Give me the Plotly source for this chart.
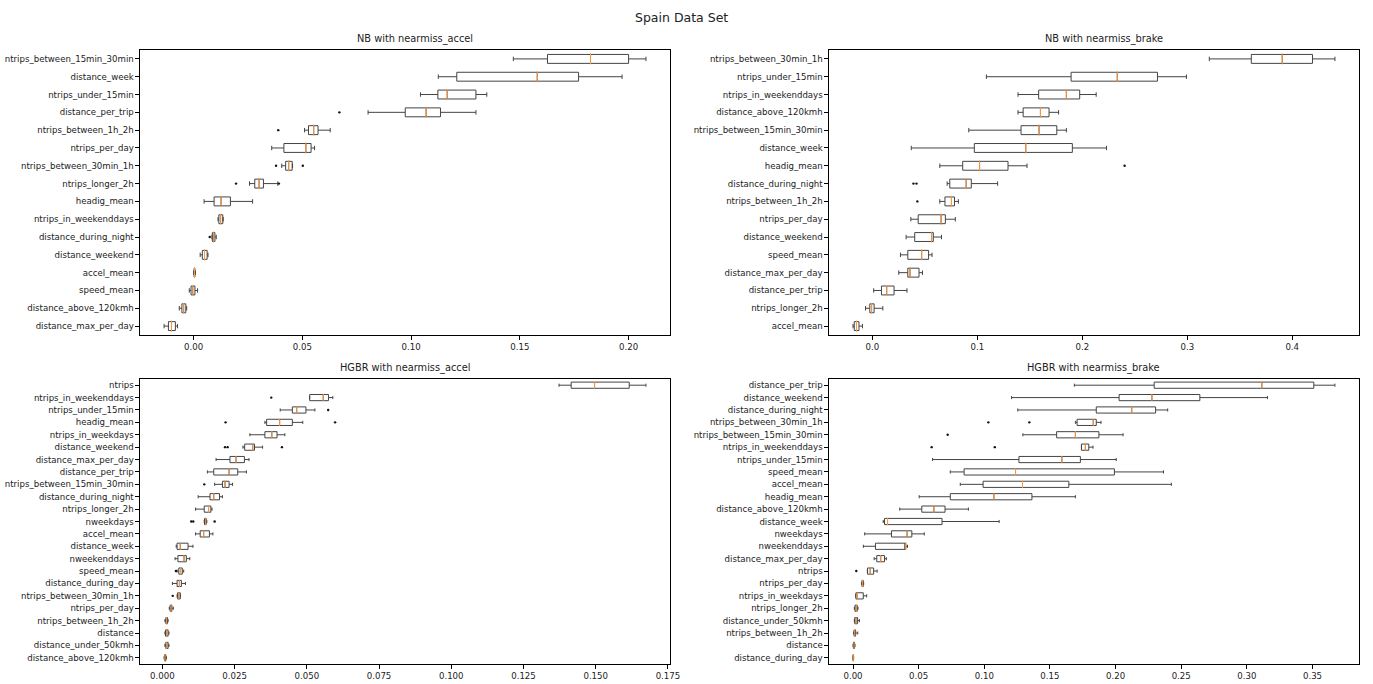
import plotly.graph_objects as go

# ---------------- data ----------------
suptitle = "Spain Data Set"

# NB with nearmiss_accel
nb_accel_features = ["ntrips_between_15min_30min", "distance_week", "ntrips_under_15min", "distance_per_trip",
                     "ntrips_between_1h_2h", "ntrips_per_day", "ntrips_between_30min_1h", "ntrips_longer_2h",
                     "headig_mean", "ntrips_in_weekenddays", "distance_during_night", "distance_weekend",
                     "accel_mean", "speed_mean", "distance_above_120kmh", "distance_max_per_day"]
nb_accel_lo = [0.147, 0.1125, 0.1043, 0.0802, 0.051, 0.0359, 0.0405, 0.0257, 0.0048, 0.0112, 0.0084, 0.0030, 0.0000, -0.0020, -0.0066, -0.0136]
nb_accel_q1 = [0.1627, 0.121, 0.1123, 0.0973, 0.0528, 0.0415, 0.0423, 0.0281, 0.0094, 0.0116, 0.0086, 0.0040, 0.0002, -0.0012, -0.0054, -0.0116]
nb_accel_med = [0.1825, 0.158, 0.1166, 0.1069, 0.0552, 0.0516, 0.0437, 0.0301, 0.0126, 0.0124, 0.0092, 0.0050, 0.0004, -0.0004, -0.0046, -0.0102]
nb_accel_q3 = [0.2, 0.177, 0.1298, 0.1135, 0.0572, 0.054, 0.0453, 0.0321, 0.0169, 0.0134, 0.0098, 0.0062, 0.0006, 0.0006, -0.0036, -0.0084]
nb_accel_hi = [0.208, 0.197, 0.1348, 0.1298, 0.0628, 0.0556, 0.0455, 0.0387, 0.0271, 0.0136, 0.0104, 0.0066, 0.0008, 0.0018, -0.0032, -0.0074]
nb_accel_out_feat = ["distance_per_trip", "ntrips_between_1h_2h", "ntrips_between_30min_1h", "ntrips_between_30min_1h",
                     "ntrips_longer_2h", "ntrips_longer_2h", "distance_during_night"]
nb_accel_out_val = [0.067, 0.0389, 0.0379, 0.0502, 0.0195, 0.0392, 0.0074]

# NB with nearmiss_brake
nb_brake_features = ["ntrips_between_30min_1h", "ntrips_under_15min", "ntrips_in_weekenddays", "distance_above_120kmh",
                     "ntrips_between_15min_30min", "distance_week", "headig_mean", "distance_during_night",
                     "ntrips_between_1h_2h", "ntrips_per_day", "distance_weekend", "speed_mean",
                     "distance_max_per_day", "distance_per_trip", "ntrips_longer_2h", "accel_mean"]
nb_brake_lo = [0.321, 0.1086, 0.1387, 0.1387, 0.0918, 0.037, 0.0642, 0.0712, 0.0642, 0.0366, 0.0321, 0.0267, 0.0251, 0.0012, -0.0066, -0.0185]
nb_brake_q1 = [0.361, 0.1893, 0.1584, 0.1436, 0.1416, 0.0971, 0.086, 0.0737, 0.0691, 0.0436, 0.0403, 0.0337, 0.0337, 0.0086, -0.0025, -0.0173]
nb_brake_med = [0.3905, 0.2333, 0.1848, 0.1601, 0.1588, 0.1461, 0.1021, 0.0893, 0.0753, 0.0654, 0.0564, 0.0469, 0.0358, 0.0136, -0.0008, -0.0152]
nb_brake_q3 = [0.4193, 0.2716, 0.1975, 0.1683, 0.1757, 0.1905, 0.1292, 0.0942, 0.0782, 0.0695, 0.058, 0.0535, 0.0444, 0.0206, 0.0016, -0.0128]
nb_brake_hi = [0.4407, 0.2992, 0.2132, 0.1774, 0.1848, 0.223, 0.1473, 0.1193, 0.0819, 0.079, 0.0658, 0.0568, 0.0477, 0.0329, 0.0099, -0.0095]
nb_brake_out_feat = ["headig_mean", "distance_during_night", "distance_during_night", "ntrips_between_1h_2h"]
nb_brake_out_val = [0.2403, 0.0391, 0.042, 0.0428]

# HGBR with nearmiss_accel
hgbr_accel_features = ["ntrips", "ntrips_in_weekenddays", "ntrips_under_15min", "headig_mean", "ntrips_in_weekdays",
                       "distance_weekend", "distance_max_per_day", "distance_per_trip", "ntrips_between_15min_30min",
                       "distance_during_night", "ntrips_longer_2h", "nweekdays", "accel_mean", "distance_week",
                       "nweekenddays", "speed_mean", "distance_during_day", "ntrips_between_30min_1h",
                       "ntrips_per_day", "ntrips_between_1h_2h", "distance", "distance_under_50kmh",
                       "distance_above_120kmh"]
hgbr_accel_lo = [0.1373, 0.051, 0.0408, 0.0355, 0.0303, 0.0279, 0.0186, 0.0156, 0.0181, 0.0124, 0.0115, 0.0145, 0.0115, 0.0048, 0.0044, 0.0051, 0.0035, 0.0051, 0.0024, 0.0009, 0.0009, 0.0009, 0.0006]
hgbr_accel_q1 = [0.1415, 0.051, 0.045, 0.0361, 0.0355, 0.0285, 0.0234, 0.0178, 0.0208, 0.0165, 0.0145, 0.0146, 0.0131, 0.0051, 0.0054, 0.0057, 0.0051, 0.0053, 0.0027, 0.0012, 0.0011, 0.0012, 0.0008]
hgbr_accel_med = [0.1496, 0.0557, 0.0465, 0.0406, 0.0379, 0.0313, 0.0255, 0.0231, 0.0217, 0.0178, 0.016, 0.015, 0.0143, 0.0062, 0.0075, 0.0063, 0.0059, 0.0057, 0.003, 0.0015, 0.0015, 0.0015, 0.0009]
hgbr_accel_q3 = [0.1616, 0.0575, 0.0497, 0.045, 0.0397, 0.0319, 0.0284, 0.0261, 0.0231, 0.0198, 0.0168, 0.0152, 0.0163, 0.0089, 0.0083, 0.0069, 0.0066, 0.0062, 0.0033, 0.0018, 0.002, 0.002, 0.0012]
hgbr_accel_hi = [0.1674, 0.059, 0.0528, 0.0486, 0.0424, 0.0347, 0.03, 0.0291, 0.0243, 0.0208, 0.0172, 0.0154, 0.0175, 0.0106, 0.0095, 0.0074, 0.008, 0.0063, 0.0038, 0.002, 0.0023, 0.0023, 0.0014]
hgbr_accel_out_feat = ["ntrips_in_weekenddays", "ntrips_under_15min", "headig_mean", "headig_mean",
                       "distance_weekend", "distance_weekend", "distance_weekend", "ntrips_between_15min_30min",
                       "nweekdays", "nweekdays", "nweekdays", "speed_mean", "ntrips_between_30min_1h"]
hgbr_accel_out_val = [0.0377, 0.0574, 0.0219, 0.0598, 0.0217, 0.0226, 0.0414, 0.0145, 0.0100, 0.0107, 0.0181, 0.0047, 0.0036]

# HGBR with nearmiss_brake
hgbr_brake_features = ["distance_per_trip", "distance_weekend", "distance_during_night", "ntrips_between_30min_1h",
                       "ntrips_between_15min_30min", "ntrips_in_weekenddays", "ntrips_under_15min", "speed_mean",
                       "accel_mean", "headig_mean", "distance_above_120kmh", "distance_week", "nweekdays",
                       "nweekenddays", "distance_max_per_day", "ntrips", "ntrips_per_day", "ntrips_in_weekdays",
                       "ntrips_longer_2h", "distance_under_50kmh", "ntrips_between_1h_2h", "distance",
                       "distance_during_day"]
hgbr_brake_lo = [0.1686, 0.1208, 0.1255, 0.1694, 0.1294, 0.1742, 0.0606, 0.0741, 0.0817, 0.0504, 0.0356, 0.023, 0.0089, 0.0079, 0.0161, 0.0109, 0.0066, 0.002, 0.001, 0.001, 0.0005, 0.0, 0.0]
hgbr_brake_q1 = [0.2294, 0.2027, 0.1853, 0.1707, 0.1551, 0.174, 0.1264, 0.0846, 0.0991, 0.0741, 0.0524, 0.024, 0.0293, 0.0171, 0.0181, 0.0111, 0.0068, 0.0022, 0.0015, 0.0013, 0.0008, 0.0003, 0.0001]
hgbr_brake_med = [0.3114, 0.2277, 0.2123, 0.183, 0.1694, 0.177, 0.1591, 0.1238, 0.1291, 0.1073, 0.0616, 0.0263, 0.0412, 0.0402, 0.0211, 0.0131, 0.0073, 0.0033, 0.0025, 0.0023, 0.0013, 0.0008, 0.0002]
hgbr_brake_q3 = [0.351, 0.2642, 0.2305, 0.1853, 0.1873, 0.1796, 0.1732, 0.1991, 0.1644, 0.1363, 0.0701, 0.0678, 0.0448, 0.0402, 0.024, 0.0157, 0.0078, 0.0078, 0.0032, 0.0035, 0.002, 0.0012, 0.0003]
hgbr_brake_hi = [0.3671, 0.3157, 0.2397, 0.1889, 0.2057, 0.1828, 0.2005, 0.2365, 0.2425, 0.1694, 0.0879, 0.1113, 0.0543, 0.0415, 0.0254, 0.0184, 0.0081, 0.0104, 0.0038, 0.0049, 0.0036, 0.0015, 0.0005]
hgbr_brake_out_feat = ["ntrips_between_30min_1h", "ntrips_between_30min_1h", "ntrips_between_15min_30min",
                       "ntrips_in_weekenddays", "ntrips_in_weekenddays", "ntrips"]
hgbr_brake_out_val = [0.1031, 0.1343, 0.0721, 0.0599, 0.108, 0.0025]

panel_titles = ["NB with nearmiss_accel", "NB with nearmiss_brake",
                "HGBR with nearmiss_accel", "HGBR with nearmiss_brake"]
tick_steps = [0.05, 0.1, 0.025, 0.05]
tick_formats = [".2f", ".1f", ".3f", ".2f"]

# ---------------- layout geometry ----------------
W, H = 1373, 684
col_x = [(141, 675), (835, 1369)]
row_y = [(50, 335), (379, 664)]
title_dx = [10, 10, 0, 0]

panels = [
    (nb_accel_features, nb_accel_lo, nb_accel_q1, nb_accel_med, nb_accel_q3, nb_accel_hi, nb_accel_out_feat, nb_accel_out_val),
    (nb_brake_features, nb_brake_lo, nb_brake_q1, nb_brake_med, nb_brake_q3, nb_brake_hi, nb_brake_out_feat, nb_brake_out_val),
    (hgbr_accel_features, hgbr_accel_lo, hgbr_accel_q1, hgbr_accel_med, hgbr_accel_q3, hgbr_accel_hi, hgbr_accel_out_feat, hgbr_accel_out_val),
    (hgbr_brake_features, hgbr_brake_lo, hgbr_brake_q1, hgbr_brake_med, hgbr_brake_q3, hgbr_brake_hi, hgbr_brake_out_feat, hgbr_brake_out_val),
]

FONT = "DejaVu Sans"
TXT = "#222222"
BOXC = "#444444"
MEDC = "#ff9a40"

fig = go.Figure()
layout = dict(
    width=W, height=H, margin=dict(l=0, r=0, t=0, b=0),
    paper_bgcolor="white", plot_bgcolor="white", showlegend=False,
    font=dict(family=FONT, color=TXT),
)
annotations = [dict(text=suptitle, x=0.5, y=1 - 17 / H, xref="paper", yref="paper",
                    showarrow=False, font=dict(size=12.5, family=FONT, color=TXT),
                    xanchor="center", yanchor="middle")]

for i, (feat, lo, q1, med, q3, hi, of, ov) in enumerate(panels):
    r, c = divmod(i, 2)
    x0, x1 = col_x[c]
    y0, y1 = row_y[r]
    n = len(feat)
    xa = "x" if i == 0 else f"x{i+1}"
    ya = "y" if i == 0 else f"y{i+1}"
    xkey = "xaxis" if i == 0 else f"xaxis{i+1}"
    ykey = "yaxis" if i == 0 else f"yaxis{i+1}"

    fig.add_trace(go.Box(
        y=feat, q1=q1, median=med, q3=q3, lowerfence=lo, upperfence=hi,
        orientation="h", width=0.5, whiskerwidth=0.5, boxpoints=False,
        line=dict(color=BOXC, width=1), fillcolor="rgba(255,255,255,0)",
        xaxis=xa, yaxis=ya, hoverinfo="skip",
    ))
    box_px = 0.5 * (y1 - y0) / n
    fig.add_trace(go.Scatter(
        x=med, y=feat, mode="markers", xaxis=xa, yaxis=ya, hoverinfo="skip",
        marker=dict(symbol="line-ns", size=box_px - 1, line=dict(color=MEDC, width=1)),
    ))
    fig.add_trace(go.Scatter(
        x=ov, y=of, mode="markers", xaxis=xa, yaxis=ya, hoverinfo="skip",
        marker=dict(symbol="circle", size=2.4, color="#111111"),
    ))

    vmin = min(lo + ov)
    vmax = max(hi + ov)
    span = vmax - vmin
    xr = [vmin - 0.05 * span, vmax + 0.05 * span]

    axis_common = dict(showline=True, linecolor="black", linewidth=1, mirror=True,
                       ticks="outside", ticklen=3.5, tickwidth=0.8, tickcolor="black",
                       showgrid=False, zeroline=False,
                       tickfont=dict(family=FONT, size=8.6, color=TXT))
    layout[xkey] = dict(axis_common, domain=[x0 / W, x1 / W], anchor=ya, range=xr,
                        tick0=0, dtick=tick_steps[i], tickformat=tick_formats[i])
    layout[ykey] = dict(axis_common, domain=[1 - y1 / H, 1 - y0 / H], anchor=xa,
                        type="category", categoryorder="array", categoryarray=feat,
                        range=[n - 0.5, -0.5])
    annotations.append(dict(text=panel_titles[i], x=((x0 + x1) / 2 + title_dx[i]) / W, y=1 - (y0 - 11) / H,
                            xref="paper", yref="paper", showarrow=False,
                            font=dict(size=9.8, family=FONT, color=TXT),
                            xanchor="center", yanchor="middle"))

layout["annotations"] = annotations
fig.update_layout(**layout)
fig.write_html("out.html", config={"displayModeBar": False},
               post_script="document.body.style.margin='0px';document.body.style.overflow='hidden';")
